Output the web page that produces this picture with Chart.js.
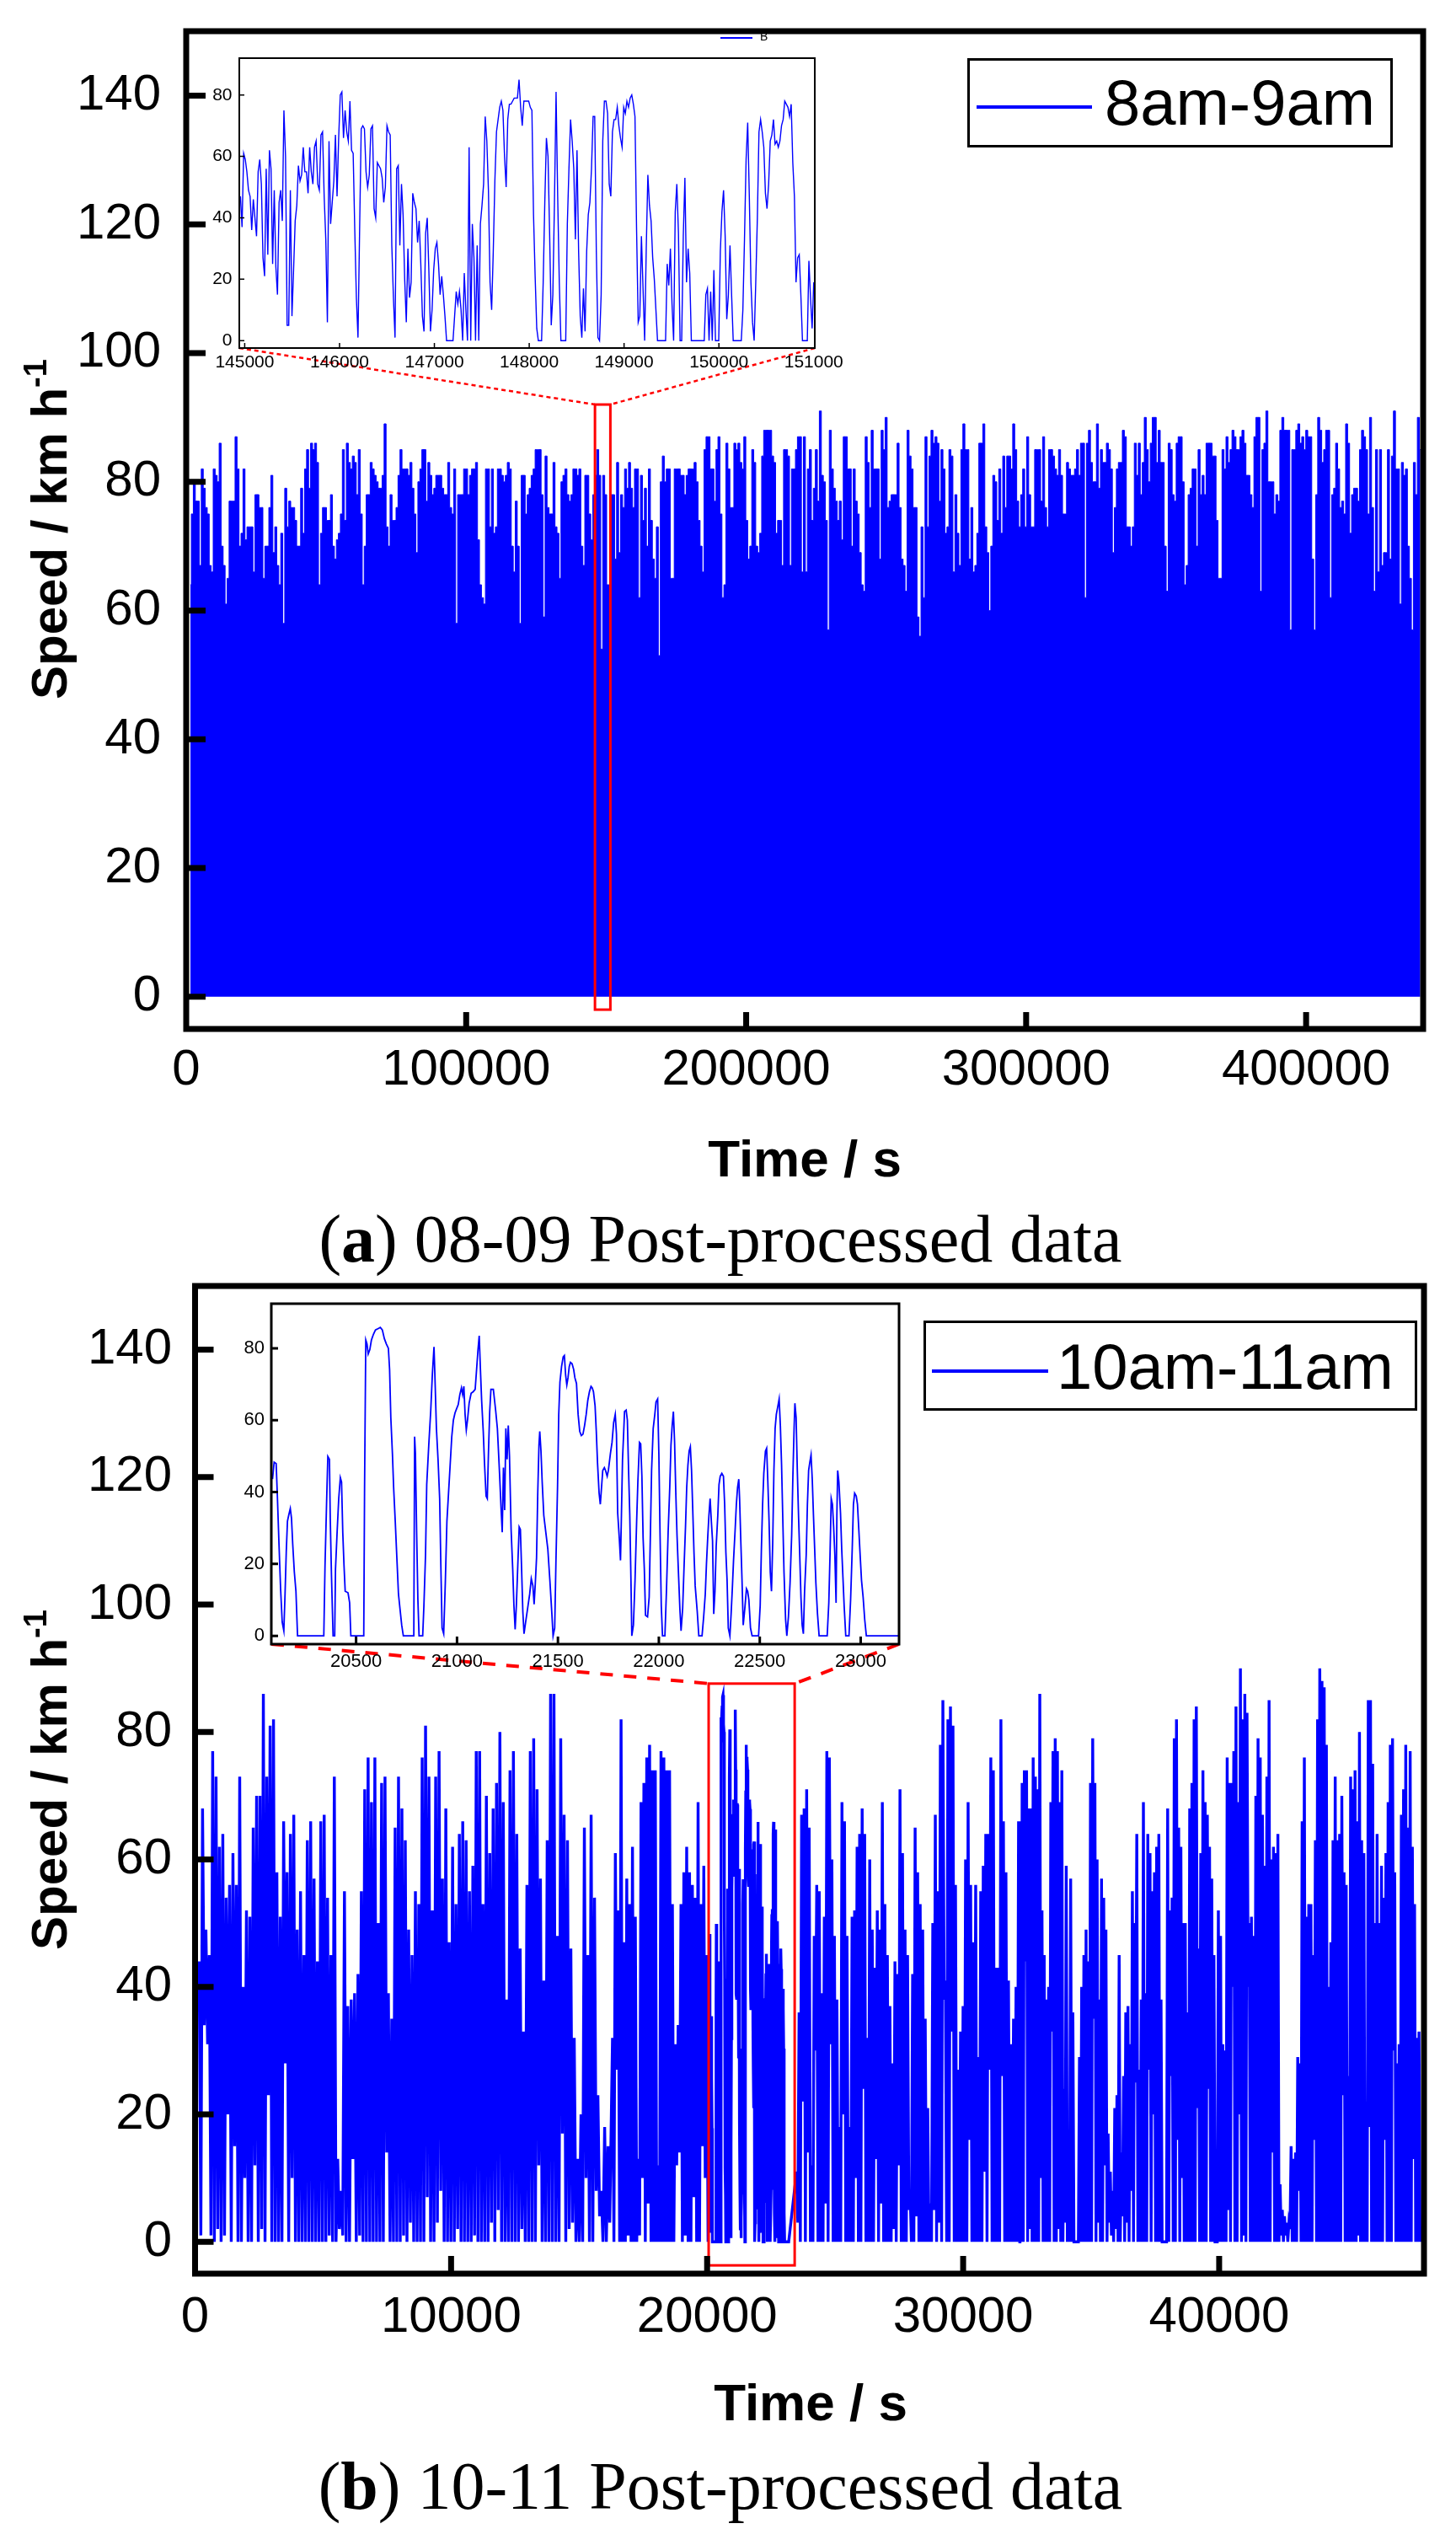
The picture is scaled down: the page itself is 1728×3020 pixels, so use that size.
<!DOCTYPE html>
<html>
<head>
<meta charset="utf-8">
<script src="https://cdn.jsdelivr.net/npm/chart.js@4.4.1/dist/chart.umd.min.js"></script>
<style>
html,body{margin:0;padding:0;background:#fff;}
body{width:1728px;height:3020px;position:relative;overflow:hidden;}
canvas{position:absolute;}
.txt{position:absolute;white-space:nowrap;color:#000;z-index:5;}
.sans{font-family:"Liberation Sans",Arial,Helvetica,sans-serif;}
.serif{font-family:"Liberation Serif","Times New Roman",serif;}
.ytitle{font-weight:bold;font-size:60px;line-height:60px;transform:translate(-50%,-50%) rotate(-90deg);}
.ytitle .sup{font-size:38px;line-height:0;vertical-align:24px;}
.xtitle{font-weight:bold;font-size:62px;line-height:62px;transform:translateX(-50%);}
.caption{font-size:80px;line-height:80px;transform:translateX(-50%);}
.legbox{position:absolute;box-sizing:border-box;border:3px solid #000;background:#fff;z-index:4;}
.legline{position:absolute;background:#0000ff;z-index:5;}
.legtext{font-size:76px;line-height:76px;}
</style>
</head>
<body>
<canvas id="mainA" width="1728" height="1420" style="left:0px;top:0px;width:1728px;height:1420px;z-index:1"></canvas>
<canvas id="insetA" width="870" height="430" style="left:150px;top:30px;width:870px;height:430px;z-index:2"></canvas>
<canvas id="mainB" width="1728" height="1400" style="left:0px;top:1480px;width:1728px;height:1400px;z-index:1"></canvas>
<canvas id="insetB" width="900" height="480" style="left:200px;top:1520px;width:900px;height:480px;z-index:2"></canvas>

<div class="txt sans ytitle" style="left:59px;top:628px;">Speed / km h<span class="sup">-1</span></div>
<div class="txt sans ytitle" style="left:59px;top:2112px;">Speed / km h<span class="sup">-1</span></div>
<div class="txt sans xtitle" style="left:955px;top:1344px;">Time / s</div>
<div class="txt sans xtitle" style="left:962px;top:2820px;">Time / s</div>
<div class="txt serif caption" style="left:855px;top:1430px;">(<b>a</b>) 08-09 Post-processed data</div>
<div class="txt serif caption" style="left:855px;top:2910px;">(<b>b</b>) 10-11 Post-processed data</div>

<div class="legbox" style="left:1148px;top:69px;width:505px;height:106px;"></div>
<div class="legline" style="left:1159px;top:125px;width:137px;height:4px;"></div>
<div class="txt sans legtext" id="legA" style="left:1311px;top:84px;"></div>

<div class="legbox" style="left:1096px;top:1567px;width:586px;height:107px;"></div>
<div class="legline" style="left:1106px;top:1625px;width:138px;height:4px;"></div>
<div class="txt sans legtext" id="legB" style="left:1254px;top:1584px;"></div>

<div class="legline" style="left:855px;top:44px;width:38px;height:2px;"></div>
<div class="txt sans" id="insetLegA" style="left:902px;top:36px;font-size:14px;line-height:14px;"></div>

<script>
// ---------------- DATA ----------------
const legendLabelA = '8am-9am';
const legendLabelB = '10am-11am';
const insetLegendLabelA = 'B';

const speedTicks = [0, 20, 40, 60, 80, 100, 120, 140];
const timeTicksA = [0, 100000, 200000, 300000, 400000];
const timeTicksB = [0, 10000, 20000, 30000, 40000];
const insetSpeedTicks = [0, 20, 40, 60, 80];
const insetTimeTicksA = [145000, 146000, 147000, 148000, 149000, 150000, 151000];
const insetTimeTicksB = [20500, 21000, 21500, 22000, 22500, 23000];

// zoomed windows marked by red boxes [start s, end s] and [low, high] km/h
const zoomWindowA = [146000, 151500];
const zoomSpeedA = [-2, 92];
const zoomWindowB = [20060, 23420];
const zoomSpeedB = [-3.7, 87.6];

// Panel (a): upper envelope of the dense 1 Hz speed trace (km/h), sampled at regular time steps
const topEnvelopeLeftStartS = 1474, topEnvelopeLeftStepS = 709.8;
const topEnvelopeLeft = [
64,75,80,77,77,67,82,79,76,75,
67,66,82,81,80,86,70,67,61,65,
77,77,77,87,82,70,72,82,71,73,
73,73,66,78,78,76,76,65,70,70,
76,81,69,73,67,64,72,58,79,73,
77,76,76,74,70,70,79,72,82,85,
79,86,85,86,83,64,72,76,76,74,
74,78,70,68,71,72,75,85,74,86,
83,82,84,83,78,85,75,64,70,78,
78,83,82,81,80,79,79,81,89,73,
70,78,74,74,76,81,85,82,82,82,
81,83,79,75,69,80,82,85,85,77,
83,81,78,79,81,81,81,79,78,78,
83,76,75,82,58,78,78,78,82,82,
78,81,82,82,83,71,64,62,61,82,
82,73,82,72,73,82,82,81,80,81,
83,82,70,66,77,70,58,81,81,75,
78,79,81,82,85,85,85,78,59,84,
76,75,75,83,73,72,65,80,81,82,
78,77,78,82,82,81,82,70,67,81,
81,75,71,78,81,85,81,54,81,78,
64,64,78,78,68,83,69,78,76,82,
79,83,79,76,82,82,62,81,74,79,
70,82,74,68,65,73,53,80,84,80,
82,82,65,65,82,82,82,81,81,78,
81,82,82,82,83,80,74,70,66,85,
87,87,82,82,77,85,87,75,62,64,
86,82,76,76,86,85,86,83,82,87,
74,68,70,85,83,70,69,72,84,88,
88,88,88,84,83,72,74,74,67,85,
85,84,67,82,82,85,87,87,66
];
const topEnvelopeRightStartS = 220800, topEnvelopeRightStepS = 712;
const topEnvelopeRight = [
87,66,82,85,74,79,85,77,91,81,
80,74,57,88,82,79,77,74,77,71,
87,87,82,82,70,82,77,75,69,64,
63,87,83,76,88,82,82,82,68,88,
85,90,76,77,78,78,78,86,76,68,
67,63,88,84,82,76,76,59,56,73,
62,87,73,84,88,86,87,86,77,85,
82,72,73,85,84,66,78,72,67,85,
89,85,85,68,76,66,67,72,86,86,
89,73,69,60,70,81,80,74,82,72,
84,76,84,84,82,89,85,77,73,78,
82,73,87,78,73,73,85,85,85,77,
87,76,73,85,85,84,82,81,85,81,
75,75,83,82,81,81,82,85,81,86,
86,62,86,88,83,80,80,89,79,85,
83,83,86,85,82,69,76,82,83,83,
88,87,73,73,70,73,86,81,86,78,
83,90,85,80,86,90,90,83,88,83,
83,70,63,86,85,78,77,86,87,87,
80,64,67,78,79,82,82,70,85,78,
81,78,86,86,86,84,84,74,65,65,
85,82,87,83,85,88,87,85,85,87,
88,86,81,81,78,76,87,90,90,63,
85,86,91,80,80,80,75,78,77,88,
90,88,88,88,57,85,85,88,89,86,
87,85,88,87,87,68,57,78,90,88,
83,85,88,88,62,78,79,86,82,76,
77,75,89,86,72,78,79,79,77,85,
88,87,85,75,90,76,63,85,66,85,
67,69,69,85,68,84,91,82,82,61,
83,81,82,70,65,57,83,78,90,85
];

// Panel (a) inset: 145000-151000 s, regular samples
const insetAStartS = 144955, insetAStepS = 16.98;
const insetASpeed = [
47,37,61,59,55,49,47,36,46,40,
34,55,59,51,27,21,56,28,62,56,
25,49,24,15,45,49,39,75,60,5,
5,49,8,23,39,44,57,52,54,63,
55,55,48,63,55,51,63,65,51,49,
67,68,47,33,6,65,38,45,52,67,
47,66,80,81,66,75,68,65,78,62,
61,36,14,1,36,69,70,69,55,50,
54,69,70,43,40,58,57,56,53,45,
50,70,68,67,31,14,1,56,57,31,
51,41,20,6,30,14,19,48,45,43,
32,39,25,8,3,35,40,23,3,10,
23,30,32,25,15,21,15,8,0,0,
0,0,0,8,16,12,16,10,0,22,
10,0,63,0,38,27,0,31,0,38,
44,51,73,65,49,19,10,29,52,68,
72,76,78,75,60,50,72,77,77,78,
79,79,79,85,76,70,78,78,78,78,
76,75,41,21,4,0,0,0,19,45,
66,60,35,5,15,45,81,47,19,0,
0,0,0,38,56,72,65,56,33,62,
29,8,1,17,3,29,41,45,56,73,
73,29,1,0,15,65,78,78,74,51,
47,68,72,72,76,70,66,63,76,74,
78,76,79,80,77,73,36,6,8,34,
17,0,30,54,44,39,27,20,10,0,
0,0,0,0,0,25,18,30,12,0,
42,51,35,0,0,34,53,19,30,22,
0,0,0,0,0,0,0,0,0,15,
17,0,16,0,23,0,0,0,29,42,
49,34,7,15,31,15,0,0,0,0,
0,0,10,33,59,71,47,19,6,0,
19,40,68,72,68,63,48,43,51,65,
67,72,64,65,63,65,70,72,78,77,
76,73,77,58,47,19,27,28,15,0,
0,0,0,26,14,4,19
];

// Panel (b) inset: 20080-23190 s
const insetBTime = [
20086,20094,20104,20110,20118,20126,20134,20142,20148,20154,
20160,20166,20174,20180,20186,20194,20202,20210,20340,20346,
20354,20360,20368,20372,20378,20386,20394,20398,20406,20414,
20422,20428,20434,20440,20446,20460,20468,20474,20538,20542,
20548,20554,20560,20568,20576,20586,20596,20610,20620,20630,
20640,20650,20660,20666,20672,20680,20686,20694,20702,20710,
20718,20726,20734,20786,20790,20794,20800,20806,20812,20830,
20836,20844,20850,20860,20870,20878,20886,20890,20898,20906,
20914,20920,20926,20934,20942,20950,20958,20966,20974,20982,
20990,20998,21006,21014,21022,21028,21034,21040,21046,21052,
21060,21070,21080,21090,21096,21104,21110,21116,21122,21130,
21136,21144,21150,21156,21162,21168,21180,21186,21192,21200,
21206,21212,21218,21224,21230,21236,21242,21248,21254,21260,
21268,21276,21282,21288,21294,21300,21308,21314,21320,21326,
21332,21340,21350,21360,21368,21376,21382,21388,21394,21400,
21406,21410,21416,21422,21430,21440,21450,21460,21470,21476,
21484,21490,21498,21504,21510,21518,21526,21532,21538,21544,
21550,21556,21562,21570,21578,21584,21592,21600,21608,21616,
21624,21632,21640,21648,21656,21664,21670,21676,21684,21690,
21696,21704,21710,21716,21722,21730,21736,21744,21750,21760,
21768,21776,21784,21790,21796,21804,21810,21814,21820,21826,
21830,21838,21844,21850,21856,21862,21866,21874,21882,21890,
21896,21904,21910,21916,21922,21928,21934,21944,21952,21958,
21964,21972,21980,21986,21994,22000,22006,22012,22018,22030,
22038,22046,22054,22060,22066,22072,22078,22084,22090,22098,
22104,22110,22118,22124,22132,22138,22144,22150,22156,22162,
22168,22174,22180,22190,22198,22214,22222,22230,22236,22242,
22248,22254,22260,22266,22272,22278,22284,22292,22298,22304,
22312,22320,22326,22332,22338,22344,22352,22358,22364,22370,
22378,22384,22390,22396,22400,22406,22412,22418,22426,22434,
22440,22446,22454,22462,22494,22502,22508,22514,22520,22528,
22534,22540,22546,22552,22558,22564,22570,22576,22582,22590,
22596,22602,22608,22614,22620,22628,22634,22642,22650,22658,
22664,22670,22674,22680,22686,22692,22698,22704,22710,22716,
22722,22730,22736,22742,22748,22754,22760,22766,22772,22778,
22786,22794,22834,22842,22848,22854,22860,22866,22872,22878,
22882,22886,22892,22900,22906,22912,22918,22926,22942,22950,
22958,22964,22970,22978,22984,22990,22998,23004,23012,23020,
23028,23186
];
const insetBSpeed = [
43.6,48.3,47.9,38.9,25.6,13.1,3.8,1.4,11.6,23.3,
31.9,33.5,35.4,32.7,25.6,17.8,12.4,0,0,19.4,
37.4,49.9,49.1,32.7,17.0,0,0,18.6,28.8,38.2,
44.0,42.8,28.8,19.8,12.4,12.0,9.2,0,0,41.3,
82.3,81.2,78.4,79.6,82.3,83.9,85.1,85.5,85.8,85.1,
82.7,81.2,80.0,74.1,60.8,50.7,41.3,31.9,21.7,11.6,
7.3,3.0,0,0,55.4,50.7,28.8,10.4,0,0,
8.4,22.5,42.1,53.0,62.8,72.9,80.4,73.3,57.7,49.1,
38.2,19.4,2.2,0.6,14.7,31.9,39.7,47.5,55.4,60.0,
62.0,63.2,64.3,67.1,69.0,67.1,69.4,61.6,57.3,60.0,
64.7,67.5,67.9,68.6,73.3,79.6,83.5,74.1,65.5,56.9,
48.3,38.9,38.2,51.4,62.4,68.6,68.6,65.5,62.4,57.7,
50.7,43.6,35.8,28.8,46.8,35.0,57.7,49.1,58.5,49.9,
29.6,18.6,8.4,1.8,8.4,17.8,30.3,29.6,18.6,6.9,
0.6,3.8,7.7,11.6,15.9,13.9,8.8,14.7,21.7,39.7,
53.0,56.9,51.4,42.8,33.5,28.8,24.1,15.5,6.1,0,
2.2,20.2,41.3,61.6,70.6,74.9,77.6,78.0,72.6,69.8,
71.8,74.9,76.1,75.7,74.1,71.8,70.2,61.6,56.9,55.7,
56.1,58.5,61.6,65.5,67.9,69.4,69.0,67.9,64.0,56.9,
48.3,39.7,36.6,41.3,46.0,46.8,46.0,44.4,46.0,50.7,
53.8,59.3,61.6,56.1,34.2,27.2,21.0,31.9,49.1,56.9,
62.4,62.8,60.0,46.0,33.5,14.7,0,3.0,15.5,31.9,
42.8,53.8,53.4,44.4,27.2,18.6,5.7,5.3,10.8,28.0,
46.0,57.7,61.6,65.1,65.9,50.7,28.0,8.4,0,0,
13.1,28.8,41.3,53.0,58.5,62.4,53.8,39.7,28.0,16.3,
7.7,1.4,7.7,17.8,30.3,41.3,47.5,51.4,52.6,46.0,
35.0,23.3,13.9,6.9,0,0,5.3,11.6,20.2,27.2,
33.5,38.2,31.9,26.4,6.1,12.4,24.9,33.5,42.1,44.4,
45.2,44.4,36.6,23.3,15.5,2.2,0,6.1,13.1,21.0,
29.6,36.6,41.3,43.6,38.2,26.4,15.5,3.0,7.7,13.1,
12.4,10.0,2.2,0,0,8.4,24.1,36.6,45.2,51.4,
52.2,42.8,31.9,17.8,12.4,25.6,46.0,57.7,61.6,64.0,
65.9,58.5,47.5,32.7,17.8,4.5,0,5.3,14.7,28.0,
44.4,57.7,64.7,60.8,46.0,33.5,22.5,10.8,3.0,0.6,
12.4,22.5,36.6,46.0,48.3,50.3,43.6,33.5,24.1,14.7,
6.1,0,0,9.2,22.5,38.2,36.6,30.3,22.5,9.2,
33.5,46.0,42.8,34.2,24.1,16.3,8.4,0,0,10.0,
24.1,36.6,39.7,38.9,36.6,30.3,21.7,15.5,10.8,4.5,
0,0
];

// Panel (b) main trace outside the inset window: successive peaks and the trough after each peak (km/h)
const bSeg1Span = [160, 16130];
const bSeg1Peaks = [
44,68,49,45,77,73,62,64,54,56,
61,56,73,40,52,51,65,70,70,86,
73,81,82,58,51,66,58,64,67,49,
55,45,63,66,57,44,66,67,54,45,
73,13,8,55,37,38,39,42,55,71,
76,69,76,50,72,73,39,35,65,73,
68,63,49,45,55,53,76,81,73,52,
73,77,57,68,47,62,53,64,66,63,
55,59,77,77,53,70,61,68,72,80,
69,38,74,77,64,46,33,56,77,79,
71,57,41,63,86,86,48,79,67,63,
46,32,13,20,65,45,67,54,23,8,
18,15
];
const bSeg1Troughs = [
1,34,31,1,0,2,0,1,20,0,
15,0,0,10,0,0,12,0,2,0,
23,0,0,0,0,28,0,10,0,0,
0,0,0,0,0,0,0,0,1,0,
0,2,1,0,0,13,0,1,0,0,
0,0,0,0,0,14,0,0,0,0,
1,0,3,0,0,0,0,7,0,0,
3,8,0,0,0,0,2,0,0,0,
0,1,0,0,0,0,3,0,5,0,
0,0,0,0,0,2,0,0,0,0,
12,0,0,0,0,0,0,17,0,2,
3,0,0,0,10,0,0,8,4,0,
0,3
];
const bSeg2Span = [16305, 19982];
const bSeg2Peaks = [
32,61,52,82,47,57,53,62,51,13,
69,72,76,78,74,74,12,77,76,74,
74,53,31,34,53,58,62,58,56,54,
69,53,59,45
];
const bSeg2Troughs = [
0,27,0,0,0,1,0,0,0,1,
10,0,6,0,0,0,0,0,0,0,
0,0,12,14,0,1,0,0,7,0,
0,15,10,0
];
const bSeg3Span = [23494, 32165];
const bSeg3Peaks = [
11,36,67,68,71,65,12,48,56,55,
39,51,77,76,60,48,38,18,69,66,
48,18,51,52,62,64,68,64,32,60,
49,43,52,49,69,53,45,37,28,44,
42,71,61,49,45,8,42,65,58,53,
49,35,21,6,50,67,55,78,85,41,
82,84,81,56,27,33,37,60,69,56,
47,56,29,55,59,64,64,76,74,43,
43,82,66,58,41,31,35,40,66
];
const bSeg3Troughs = [
3,0,22,0,14,0,0,30,0,0,
0,6,0,31,0,0,0,0,20,0,
0,0,0,10,0,0,24,0,0,0,
0,13,0,6,0,0,0,0,2,0,
12,0,0,0,5,0,0,4,0,0,
0,0,0,0,5,0,3,0,38,0,
0,33,0,0,0,0,0,0,16,0,
0,0,0,0,11,0,27,0,0,0,
0,26,0,0,0,0,0,0,0
];
const bSeg4Span = [32219, 47805];
const bSeg4Peaks = [
66,72,74,74,68,68,76,73,71,86,
52,45,38,40,69,77,79,77,69,74,
24,59,15,57,36,0,0,29,40,45,
49,44,72,79,72,60,38,57,54,49,
17,11,8,21,23,45,14,26,36,37,
31,55,50,64,27,38,69,39,64,61,
55,58,62,64,38,0,0,68,52,54,
79,82,65,62,50,50,36,68,72,82,
84,46,61,74,69,67,62,57,45,0,
52,48,31,30,76,72,72,77,84,69,
90,82,86,83,50,51,48,70,79,76,
67,59,73,85,60,62,61,64,9,5,
4,3,3,15,13,14,29,28,66,76,
51,53,53,45,63,82,90,88,87,78,
40,47,63,73,63,64,70,58,56,26,
73,71,74,66,80,63,61,22,85,85,
75,50,64,50,59,54,61,69,78,79,
58,28,31,67,71,78,65,77,62,53,
32,33
];
const bSeg4Troughs = [
0,0,44,0,2,0,0,0,0,10,
0,0,0,0,33,0,0,2,0,0,
3,0,0,0,0,0,0,0,0,0,
0,0,0,35,0,3,0,0,12,0,
3,1,0,2,0,0,4,0,3,0,
8,0,25,0,0,0,0,0,27,0,
20,0,0,0,0,0,0,0,26,0,
0,16,0,10,0,0,0,0,0,0,
21,0,0,0,0,24,0,0,0,0,
0,0,0,0,5,0,40,0,0,20,
0,1,0,40,0,0,0,0,0,0,
0,0,0,0,14,0,0,0,1,0,
1,0,2,0,0,0,8,0,0,0,
0,0,0,16,0,0,0,0,0,0,
0,0,0,0,0,0,23,0,0,0,
0,0,0,1,0,0,0,0,18,0,
0,0,0,0,0,16,0,0,0,30,
0,0,0,0,0,0,0,0,13,0,
0,0
];

// ---------------- BUILD ----------------
const FONT = '"Liberation Sans", Arial, Helvetica, sans-serif';
const BLUE = '#0000ff';

document.getElementById('legA').textContent = legendLabelA;
document.getElementById('legB').textContent = legendLabelB;
document.getElementById('insetLegA').textContent = insetLegendLabelA;

function sampled(startS, stepS, values) {
  return values.map((v, i) => ({ x: startS + i * stepS, y: v }));
}
function paired(span, peaks, troughs) {
  const step = (span[1] - span[0]) / (peaks.length - 1);
  const pts = [];
  peaks.forEach((p, i) => {
    pts.push({ x: span[0] + i * step, y: p });
    if (i < troughs.length) pts.push({ x: span[0] + (i + 0.5) * step, y: troughs[i] });
  });
  return pts;
}
function zip(ts, vs) {
  const n = Math.min(ts.length, vs.length);
  const out = [];
  for (let i = 0; i < n; i++) out.push({ x: ts[i], y: vs[i] });
  return out;
}

const topPoints = sampled(topEnvelopeLeftStartS, topEnvelopeLeftStepS, topEnvelopeLeft)
  .concat(sampled(topEnvelopeRightStartS, topEnvelopeRightStepS, topEnvelopeRight));
const insetAPoints = sampled(insetAStartS, insetAStepS, insetASpeed);
const insetBPoints = zip(insetBTime, insetBSpeed);
const bottomPoints = paired(bSeg1Span, bSeg1Peaks, bSeg1Troughs)
  .concat(paired(bSeg2Span, bSeg2Peaks, bSeg2Troughs))
  .concat(insetBPoints)
  .concat(paired(bSeg3Span, bSeg3Peaks, bSeg3Troughs))
  .concat(paired(bSeg4Span, bSeg4Peaks, bSeg4Troughs));

function framePlugin(o) {
  return {
    id: o.id,
    beforeDatasetsDraw(chart) {
      if (!o.whiteBg) return;
      const a = chart.chartArea, c = chart.ctx;
      c.save(); c.fillStyle = '#fff';
      c.fillRect(a.left, a.top, a.right - a.left, a.bottom - a.top);
      c.restore();
    },
    afterDatasetsDraw(chart) {
      const ctx = chart.ctx, a = chart.chartArea, xs = chart.scales.x, ys = chart.scales.y;
      ctx.save();
      if (o.extra) o.extra(chart, ctx);
      ctx.setLineDash([]);
      ctx.strokeStyle = '#000';
      ctx.lineWidth = o.frameW;
      ctx.strokeRect(a.left, a.top, a.right - a.left, a.bottom - a.top);
      ctx.lineWidth = o.tickW;
      ctx.beginPath();
      xs.ticks.forEach(t => {
        const px = xs.getPixelForValue(t.value);
        if (px < a.left + 2 || px > a.right - 2) return;
        ctx.moveTo(px, a.bottom); ctx.lineTo(px, a.bottom - o.xTickLen);
      });
      ys.ticks.forEach(t => {
        const py = ys.getPixelForValue(t.value);
        ctx.moveTo(a.left, py); ctx.lineTo(a.left + o.yTickLen, py);
      });
      ctx.stroke();
      ctx.restore();
    }
  };
}

function axis(o) {
  return {
    type: 'linear', min: o.min, max: o.max,
    grid: { display: false, drawTicks: false },
    border: { display: false },
    afterBuildTicks: s => { s.ticks = o.ticks.map(v => ({ value: v })); },
    afterFit: s => {
      if (o.width !== undefined) s.width = o.width;
      if (o.height !== undefined) s.height = o.height;
      s.paddingLeft = 0; s.paddingRight = 0; s.paddingTop = 0; s.paddingBottom = 0;
    },
    ticks: {
      autoSkip: false, maxRotation: 0, minRotation: 0, padding: o.pad, color: '#000',
      font: { family: FONT, size: o.size, lineHeight: 1.2 },
      callback: v => String(v)
    }
  };
}

function baseOptions(padding, xAxis, yAxis) {
  return {
    responsive: false, animation: false, events: [],
    layout: { padding: padding },
    plugins: { legend: { display: false }, tooltip: { enabled: false } },
    scales: { x: xAxis, y: yAxis }
  };
}

// Inset (a)
const insetA = new Chart(document.getElementById('insetA'), {
  type: 'line',
  data: { datasets: [{ data: insetAPoints, borderColor: BLUE, borderWidth: 1.4, pointRadius: 0, fill: false, tension: 0 }] },
  options: baseOptions({ left: 0, top: 39, right: 53, bottom: 0 },
    axis({ min: 144943, max: 151011, ticks: insetTimeTicksA, height: 47, pad: 4.4, size: 21 }),
    axis({ min: -2.4, max: 92, ticks: insetSpeedTicks, width: 134, pad: 8.5, size: 21 })),
  plugins: [framePlugin({ id: 'fA', whiteBg: true, frameW: 2, tickW: 1.5, xTickLen: 6, yTickLen: 6 })]
});

// Inset (b)
const insetB = new Chart(document.getElementById('insetB'), {
  type: 'line',
  data: { datasets: [{ data: insetBPoints, borderColor: BLUE, borderWidth: 1.8, pointRadius: 0, fill: false, tension: 0 }] },
  options: baseOptions({ left: 0, top: 27, right: 33, bottom: 0 },
    axis({ min: 20080, max: 23190, ticks: insetTimeTicksB, height: 49, pad: 7.5, size: 22 }),
    axis({ min: -2.3, max: 92.4, ticks: insetSpeedTicks, width: 122, pad: 8, size: 22 })),
  plugins: [framePlugin({ id: 'fB', whiteBg: true, frameW: 3, tickW: 3, xTickLen: 9, yTickLen: 8 })]
});

function zoomExtra(inset, insetOffset, win, spd, dash, dashW) {
  return (chart, ctx) => {
    const xs = chart.scales.x, ys = chart.scales.y;
    const l = xs.getPixelForValue(win[0]), r = xs.getPixelForValue(win[1]);
    const t = ys.getPixelForValue(spd[1]), b = ys.getPixelForValue(spd[0]);
    ctx.strokeStyle = '#ff0000';
    ctx.lineWidth = 3;
    ctx.strokeRect(l, t, r - l, b - t);
    const ia = inset.chartArea;
    ctx.setLineDash(dash);
    ctx.lineWidth = dashW;
    ctx.beginPath();
    ctx.moveTo(insetOffset[0] + ia.left, insetOffset[1] + ia.bottom); ctx.lineTo(l, t);
    ctx.moveTo(insetOffset[0] + ia.right, insetOffset[1] + ia.bottom); ctx.lineTo(r, t);
    ctx.stroke();
  };
}

// Main (a)
new Chart(document.getElementById('mainA'), {
  type: 'line',
  data: { datasets: [{ data: topPoints, borderColor: BLUE, backgroundColor: BLUE, borderWidth: 1, pointRadius: 0, fill: 'origin', stepped: 'middle', tension: 0 }] },
  options: baseOptions({ left: 0, top: 37, right: 39, bottom: 0 },
    axis({ min: 0, max: 441800, ticks: timeTicksA, height: 199, pad: 13.5, size: 60 }),
    axis({ min: -5, max: 150, ticks: speedTicks, width: 221, pad: 30, size: 60 })),
  plugins: [framePlugin({ id: 'fMA', frameW: 7, tickW: 7, xTickLen: 20, yTickLen: 23,
    extra: zoomExtra(insetA, [150, 30], zoomWindowA, zoomSpeedA, [5, 4], 2.5) })]
});

// Main (b)
new Chart(document.getElementById('mainB'), {
  type: 'line',
  data: { datasets: [{ data: bottomPoints, borderColor: BLUE, borderWidth: 3.4, pointRadius: 0, fill: false, tension: 0, borderJoinStyle: 'miter' }] },
  options: baseOptions({ left: 0, top: 46, right: 38, bottom: 0 },
    axis({ min: 0, max: 48000, ticks: timeTicksB, height: 182, pad: 16.5, size: 60 }),
    axis({ min: -5, max: 150, ticks: speedTicks, width: 231.5, pad: 27.5, size: 60 })),
  plugins: [framePlugin({ id: 'fMB', frameW: 7, tickW: 7, xTickLen: 21, yTickLen: 22,
    extra: zoomExtra(insetB, [200, 40], zoomWindowB, zoomSpeedB, [15, 13], 4) })]
});
</script>
</body>
</html>
